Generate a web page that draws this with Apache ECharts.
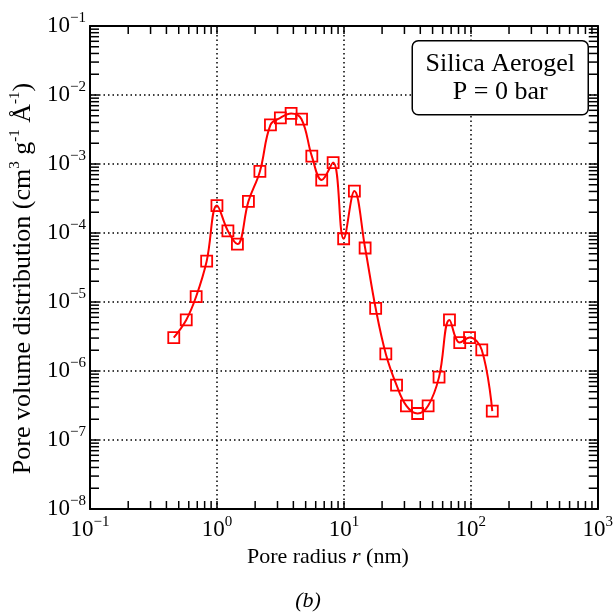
<!DOCTYPE html>
<html>
<head>
<meta charset="utf-8">
<script src="https://cdn.jsdelivr.net/npm/echarts@6/dist/echarts.min.js"></script>
<style>
html,body{margin:0;padding:0;background:#fff;}
#chart{width:616px;height:615px;}
</style>
</head>
<body>
<div id="chart"></div>
<script>
// Pore radius r (nm)
var radius = [0.457, 0.573, 0.686, 0.830, 1.0, 1.22, 1.45, 1.77, 2.18, 2.64, 3.16, 3.84, 4.64, 5.59, 6.69, 8.23, 9.96, 12.1, 14.7, 17.8, 21.4, 26.0, 31.1, 38.1, 46.1, 56.2, 67.9, 81.8, 97.7, 122, 147.6];
// Pore volume distribution (cm^3 g^-1 Å^-1)
var volume = [3.05e-6, 5.5e-6, 1.2e-5, 3.9e-5, 2.5e-4, 1.07e-4, 6.9e-5, 2.87e-4, 7.8e-4, 3.69e-3, 4.66e-3, 5.4e-3, 4.46e-3, 1.30e-3, 5.85e-4, 1.05e-3, 8.26e-5, 4.05e-4, 6.06e-5, 8.1e-6, 1.77e-6, 6.24e-7, 3.13e-7, 2.42e-7, 3.13e-7, 8.15e-7, 5.5e-6, 2.58e-6, 3.05e-6, 2.02e-6, 2.62e-7];
// axis ranges
var xMin = 0.1, xMax = 1000;
var yMin = 1e-8, yMax = 0.1;
// minor tick multipliers (2..9 × decade)
var minorMult = [2, 3, 4, 5, 6, 7, 8, 9];
var xDecades = [0.1, 1, 10, 100];
var yDecades = [1e-8, 1e-7, 1e-6, 1e-5, 1e-4, 1e-3, 1e-2];
// annotation text
var boxText = 'Silica Aerogel\nP = 0 bar';
var panelLabel = '(b)';

var FONT = '"Liberation Serif", "Times New Roman", serif';
var minorData = [];
xDecades.forEach(function (d) { minorMult.forEach(function (m) { minorData.push([m * d, yMin, 0]); }); });
yDecades.forEach(function (d) { minorMult.forEach(function (m) { minorData.push([xMin, m * d, 1]); }); });

var pts = radius.map(function (r, i) { return [r, volume[i]]; });

function expLabel(v) {
  var e = Math.round(Math.log10(v));
  var s = e < 0 ? '\u2212' + (-e) : '' + e;
  return '{b|10}{s|' + s + '}';
}
var richLab = {
  b: { fontFamily: FONT, fontSize: 23, color: '#000', lineHeight: 30, verticalAlign: 'middle' },
  s: { fontFamily: FONT, fontSize: 15, color: '#000', lineHeight: 10, verticalAlign: 'top' }
};

var chart = echarts.init(document.getElementById('chart'), null, { renderer: 'canvas' });
var TICK = 8;
var option = {
  animation: false,
  backgroundColor: '#fff',
  grid: { left: 88, right: 13, top: 26, bottom: 106, containLabel: false },
  xAxis: [{
    type: 'log', logBase: 10, min: xMin, max: xMax, position: 'bottom',
    axisLine: { show: true, lineStyle: { color: '#000', width: 2 } },
    axisTick: { show: true, inside: true, length: TICK, lineStyle: { color: '#000', width: 1.5 } },
    axisLabel: { margin: 6, formatter: expLabel, rich: richLab },
    splitLine: { show: true, lineStyle: { color: '#000', width: 1.5, type: [1.5, 3] } },
    name: '{t|Pore radius }{i|r}{t| (nm)}',
    nameLocation: 'middle', nameGap: 33,
    nameTextStyle: { padding: [0, 32, 0, 0], rich: {
      t: { fontFamily: FONT, fontSize: 22, color: '#000' },
      i: { fontFamily: FONT, fontSize: 22, color: '#000', fontStyle: 'italic' } } }
  }, {
    type: 'log', logBase: 10, min: xMin, max: xMax, position: 'top',
    axisLine: { show: true, lineStyle: { color: '#000', width: 2 } },
    axisTick: { show: true, inside: true, length: TICK, lineStyle: { color: '#000', width: 1.5 } },
    axisLabel: { show: false }, splitLine: { show: false }
  }],
  yAxis: [{
    type: 'log', logBase: 10, min: yMin, max: yMax, position: 'left',
    axisLine: { show: true, lineStyle: { color: '#000', width: 2 } },
    axisTick: { show: true, inside: true, length: TICK + 1, lineStyle: { color: '#000', width: 1.5 } },
    axisLabel: { margin: 4, formatter: expLabel, rich: richLab },
    splitLine: { show: true, lineStyle: { color: '#000', width: 1.5, type: [1.5, 3] } },
    name: '{t|Pore volume distribution (cm}{s|3}{t| g}{s|-1}{t| \u00C5}{s|-1}{t|)}',
    nameLocation: 'middle', nameGap: 52, nameRotate: 90,
    nameTextStyle: { padding: [0, 22, 0, 0], rich: {
      t: { fontFamily: FONT, fontSize: 26, color: '#000', lineHeight: 30, verticalAlign: 'middle' },
      s: { fontFamily: FONT, fontSize: 15, color: '#000', lineHeight: 12, verticalAlign: 'top' } } }
  }, {
    type: 'log', logBase: 10, min: yMin, max: yMax, position: 'right',
    axisLine: { show: true, lineStyle: { color: '#000', width: 2 } },
    axisTick: { show: true, inside: true, length: TICK + 1, lineStyle: { color: '#000', width: 1.5 } },
    axisLabel: { show: false }, splitLine: { show: false }
  }],
  graphic: [{
    type: 'group', right: 27, top: 40, z: 100,
    children: [{
      type: 'rect', z: 100, shape: { x: 0, y: 0, width: 176, height: 74, r: 6 },
      style: { fill: '#fff', stroke: '#000', lineWidth: 1.5 }
    }, {
      type: 'text', z: 101, x: 88, y: 9,
      style: { text: boxText, font: '26px ' + FONT, fill: '#000', align: 'center', lineHeight: 28 }
    }]
  }, {
    type: 'text', left: 'center', top: 590,
    style: { text: panelLabel, font: 'italic 22px ' + FONT, fill: '#000' }
  }],
  series: [{
    type: 'custom', coordinateSystem: 'cartesian2d', xAxisIndex: 0, yAxisIndex: 0,
    silent: true, z: 5, clip: false,
    data: minorData,
    renderItem: function (params, api) {
      var cs = params.coordSys;
      var kind = api.value(2);
      var lines = [];
      var st = { stroke: '#000', lineWidth: 1.5 };
      if (kind === 0) {
        var x = api.coord([api.value(0), yMin])[0];
        lines.push({ type: 'line', shape: { x1: x, y1: cs.y + cs.height, x2: x, y2: cs.y + cs.height - TICK }, style: st });
        lines.push({ type: 'line', shape: { x1: x, y1: cs.y, x2: x, y2: cs.y + TICK }, style: st });
      } else {
        var y = api.coord([xMin, api.value(1)])[1];
        lines.push({ type: 'line', shape: { x1: cs.x, y1: y, x2: cs.x + TICK + 1, y2: y }, style: st });
        lines.push({ type: 'line', shape: { x1: cs.x + cs.width, y1: y, x2: cs.x + cs.width - TICK - 1, y2: y }, style: st });
      }
      return { type: 'group', children: lines };
    }
  }, {
    type: 'line', xAxisIndex: 0, yAxisIndex: 0,
    data: pts, smooth: 0.4, z: 10,
    lineStyle: { color: '#ff0000', width: 2 },
    symbol: 'rect', symbolSize: 11,
    itemStyle: { color: 'rgba(0,0,0,0)', borderColor: '#ff0000', borderWidth: 1.8 }
  }]
};
chart.setOption(option);
</script>
</body>
</html>
